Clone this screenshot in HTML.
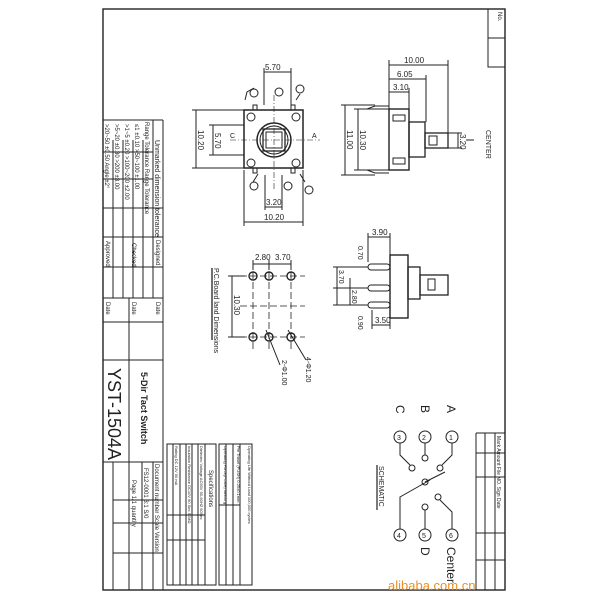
<!DOCTYPE html>
<html><head><meta charset="utf-8"><style>
html,body{margin:0;padding:0;background:#fff}
svg{display:block}
text{font-family:"Liberation Sans",sans-serif;fill:#222}
</style></head><body>
<svg width="600" height="600" viewBox="0 0 600 600" xmlns="http://www.w3.org/2000/svg">
<g stroke="#222" fill="none" stroke-width="1">
<rect x="103" y="9" width="402" height="581" stroke-width="1.4"/>
<path d="M488 9 V67 H505 M488 38 H505"/>
<path d="M163 120 V590 M103 120 H163"/>
<path d="M113 140 V298 M123 140 V298 M133 140 V298 M143 140 V298 M153 120 V298 M129 298 V590"/>
<path d="M103 152 H153 M103 179 H153 M103 208 H163 M103 237 H163 M103 267 H163 M103 298 H163 M103 322 H163 M103 360 H163 M103 462 H163"/>
<path d="M113 462 V590 M142 462 V590 M153 462 V590 M113 500 H163 M113 523 H163 M113 553 H163"/>
<path d="M476 433 V590 M476 433 H505 M485 433 V590 M495 433 V590 M476 453 H505 M476 477 H505 M476 533 H505 M476 560 H505"/>
<rect x="167" y="444" width="49" height="141"/>
<path d="M173 444 V585 M180 444 V585 M186 444 V585 M192 444 V585 M198 444 V585 M205 444 V585 M167 515 H205 M167 540 H205"/>
<rect x="219" y="444" width="33" height="141"/>
<path d="M226 444 V585 M233 444 V585 M240 444 V585 M219 505 H240"/>
<rect x="244" y="110" width="59" height="58" stroke-width="1.5"/>
<circle cx="274" cy="140" r="17" stroke-width="1.5"/>
<circle cx="274" cy="140" r="14"/>
<rect x="263" y="129" width="22" height="22" stroke-width="1.3"/>
<rect x="266" y="132" width="16" height="16"/>
<circle cx="251" cy="117" r="4"/><circle cx="296" cy="117" r="4"/>
<circle cx="251" cy="163" r="4"/><circle cx="296" cy="163" r="4"/>
<rect x="253" y="105" width="4" height="5"/><rect x="291" y="105" width="4" height="5"/>
<rect x="253" y="168" width="4" height="5"/><rect x="291" y="168" width="4" height="5"/>
<path d="M230 140 H320" stroke-dasharray="6 2 1 2" stroke-width="0.6"/>
<path d="M274 95 V190" stroke-dasharray="6 2 1 2" stroke-width="0.6"/>
<path d="M264 72 H291 M264 68 V105 M291 68 V105"/>
<path d="M244 222 H303 M244 170 V226 M303 170 V226 M265 207 H282 M265 175 V210 M282 175 V210"/>
<path d="M196 110 V168 M192 110 H244 M192 168 H244 M213 125 V155 M209 125 H244 M209 155 H244"/>
<path d="M245 100 L247 92 L254 88 M296 100 L300 94 M300 174 L305 182 M258 174 L253 182"/>
<circle cx="254" cy="93" r="4"/><circle cx="300" cy="89" r="4"/><circle cx="279" cy="92" r="4"/>
<circle cx="254" cy="186" r="4"/><circle cx="288" cy="186" r="4"/><circle cx="309" cy="190" r="4"/>
<rect x="389" y="109" width="20" height="61" stroke-width="1.4"/>
<rect x="409" y="122" width="16" height="35" stroke-width="1.3"/>
<rect x="425" y="133" width="23" height="15" stroke-width="1.3"/>
<rect x="429" y="136" width="8" height="9"/>
<rect x="393" y="115" width="12" height="6"/><rect x="393" y="158" width="12" height="6"/>
<path d="M367 109 L375 106 H389 M367 170 L375 173 H389"/>
<path d="M389 65 H448 M389 79 H426 M389 92 H409 M389 60 V109 M448 60 V133 M426 75 V122 M409 88 V109"/>
<path d="M345 105 V175 M341 105 H375 M341 175 H375 M358 109 V170 M354 109 H389 M354 170 H389"/>
<path d="M458 133 V148 M448 133 H462 M448 148 H462 M466 140 H474"/>
<rect x="390" y="255" width="18" height="63" stroke-width="1.4"/>
<rect x="408" y="267" width="12" height="32" stroke-width="1.3"/>
<rect x="420" y="275" width="28" height="20" stroke-width="1.3"/>
<rect x="428" y="279" width="7" height="11"/>
<rect x="368" y="264" width="22" height="6" rx="3"/>
<rect x="368" y="285" width="22" height="6" rx="3"/>
<rect x="368" y="302" width="22" height="6" rx="3"/>
<path d="M368 237 H390 M368 233 V262 M390 233 V255 M372 325 H390 M372 310 V329 M390 318 V329"/>
<path d="M337 267 V305 M350 278 V305 M333 267 H368 M333 288 H368 M333 305 H368"/>
<path d="M253 262 V350 M269 262 V350 M291 262 V350 M240 276 H305 M240 337 H305 M240 306 H305" stroke-dasharray="7 3" stroke-width="0.8"/>
<circle cx="253" cy="276" r="4" stroke-width="1.4"/><circle cx="269" cy="276" r="4" stroke-width="1.4"/><circle cx="291" cy="276" r="4" stroke-width="1.4"/>
<circle cx="253" cy="337" r="4" stroke-width="1.4"/><circle cx="269" cy="337" r="4" stroke-width="1.4"/><circle cx="291" cy="337" r="4" stroke-width="1.4"/>
<path d="M253 264 H291 M253 260 V270 M269 260 V270 M291 260 V270 M232 276 V337 M228 276 H245 M228 337 H245"/>
<path d="M266 330 L280 365 M288 330 L306 360"/>
<path d="M212 268 V340" stroke-width="1.3"/>
<circle cx="452" cy="437" r="6"/><circle cx="425" cy="437" r="6"/><circle cx="400" cy="437" r="6"/>
<circle cx="400" cy="535" r="6"/><circle cx="425" cy="535" r="6"/><circle cx="452" cy="535" r="6"/>
<path d="M452 443 V455 L442 465 M425 443 V455 M400 443 V455 L410 465 M400 529 V497 L430 480 M425 529 V510 M452 529 V512 L440 500"/>
<circle cx="440" cy="468" r="3"/><circle cx="425" cy="458" r="3"/><circle cx="412" cy="468" r="3"/>
<circle cx="425" cy="482" r="3"/><circle cx="425" cy="507" r="3"/><circle cx="438" cy="497" r="3"/>
<path d="M425 482 L445 472"/>
<path d="M377 465 V510" stroke-width="1.2"/>
</g>
<g font-size="6">
<text transform="translate(155,140) rotate(90)" font-size="7">Unmarked dimension tolerance</text>
<text transform="translate(145,122) rotate(90)">Range Tolerance Range Tolerance</text>
<text transform="translate(135,124) rotate(90)">≤1    ±0.10  &gt;50~100 ±1.00</text>
<text transform="translate(125,124) rotate(90)">&gt;1~5 ±0.20 &gt;100~200 ±2.00</text>
<text transform="translate(115,124) rotate(90)">&gt;5~20 ±0.30  &gt;200   ±3.00</text>
<text transform="translate(105,124) rotate(90)">&gt;20~50 ±0.50 Angle  ±2°</text>
<text transform="translate(156,240) rotate(90)">Designed</text>
<text transform="translate(132,243) rotate(90)">Checked</text>
<text transform="translate(106,241) rotate(90)">Approved</text>
<text transform="translate(156,302) rotate(90)">Date</text>
<text transform="translate(132,302) rotate(90)">Date</text>
<text transform="translate(106,302) rotate(90)">Date</text>
<text transform="translate(108,368) rotate(90)" font-size="18">YST-1504A</text>
<text transform="translate(141,372) rotate(90)" font-size="9" font-weight="bold">5-Dir Tact Switch</text>
<text transform="translate(155,464) rotate(90)">Document number  Scale  Version</text>
<text transform="translate(144,468) rotate(90)">FS12-0001       3:1     S/0</text>
<text transform="translate(132,480) rotate(90)">Page  1/1  quantity</text>
<text transform="translate(498,12) rotate(90)">No.</text>
<text transform="translate(497,436) rotate(90)" font-size="5">Mark Amount  File NO.  Sign  Date</text>
<text transform="translate(209,470) rotate(90)">Specifications</text>
<text transform="translate(175,446) rotate(90)" font-size="4">Rating        DC 12V 50 mA</text>
<text transform="translate(188,446) rotate(90)" font-size="4">Insulation Resistance DC10V 60 Sec 50MΩ</text>
<text transform="translate(200,446) rotate(90)" font-size="4">Dielectric Voltage AC50V 50-60HZ 60Sec</text>
<text transform="translate(224,446) rotate(90)" font-size="4">Operating Force(PUSH) 98±50 gf</text>
<text transform="translate(237,446) rotate(90)" font-size="4">Pre Travel (PUSH) 0.25±0.1mm</text>
<text transform="translate(248,446) rotate(90)" font-size="4">Operating Life Without Load 100,000 cycles</text>
</g>
<g font-size="8">
<text x="265" y="70">5.70</text>
<text x="264" y="220">10.20</text>
<text x="266" y="205">3.20</text>
<text transform="translate(198,130) rotate(90)">10.20</text>
<text transform="translate(215,133) rotate(90)">5.70</text>
<text x="230" y="138" font-size="7">C</text><text x="312" y="138" font-size="7">A</text>
<text x="404" y="63">10.00</text>
<text x="397" y="77">6.05</text>
<text x="393" y="90">3.10</text>
<text transform="translate(347,130) rotate(90)">11.00</text>
<text transform="translate(360,130) rotate(90)">10.30</text>
<text transform="translate(460,134) rotate(90)">3.20</text>
<text transform="translate(486,130) rotate(90)" font-size="7">CENTER</text>
<text x="372" y="235">3.90</text>
<text x="375" y="323">3.50</text>
<text transform="translate(358,246) rotate(90)" font-size="7">0.70</text>
<text transform="translate(339,270) rotate(90)" font-size="7">3.70</text>
<text transform="translate(352,290) rotate(90)" font-size="7">2.80</text>
<text transform="translate(358,316) rotate(90)" font-size="7">0.90</text>
<text x="255" y="260">2.80</text><text x="275" y="260">3.70</text>
<text transform="translate(234,295) rotate(90)">10.30</text>
<text transform="translate(214,268) rotate(90)" font-size="7">P.C.Board land Dimensions</text>
<text transform="translate(282,360) rotate(90)" font-size="7">2-Φ1.00</text>
<text transform="translate(306,357) rotate(90)" font-size="7">4-Φ1.20</text>
<text transform="translate(379,466) rotate(90)" font-size="7">SCHEMATIC</text>
</g>
<g font-size="12">
<text transform="translate(447,405) rotate(90)">A</text>
<text transform="translate(421,405) rotate(90)">B</text>
<text transform="translate(396,405) rotate(90)">C</text>
<text transform="translate(421,547) rotate(90)">D</text>
<text transform="translate(447,547) rotate(90)">Center</text>
</g>
<g font-size="7">
<text x="449" y="440">1</text><text x="422" y="440">2</text><text x="397" y="440">3</text>
<text x="397" y="538">4</text><text x="422" y="538">5</text><text x="449" y="538">6</text>
</g>
<text x="388" y="590" font-size="13" style="fill:#e8902a">alibaba.com.cn</text>
</svg>
</body></html>
